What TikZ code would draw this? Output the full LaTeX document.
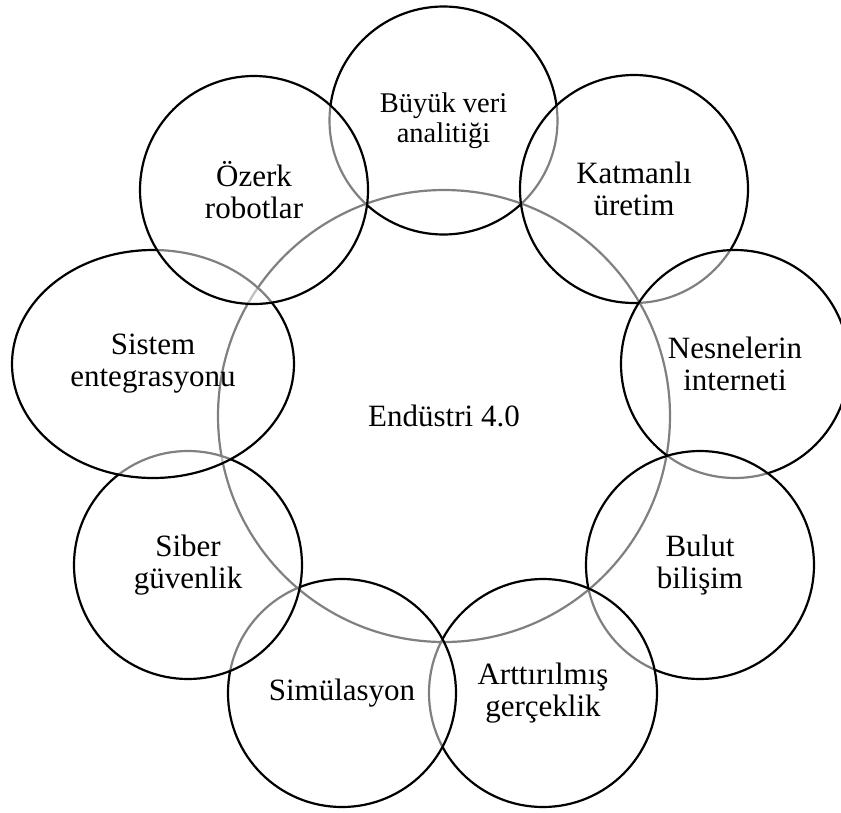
\documentclass[tikz,border=0pt]{standalone}
\usepackage{fontspec}
\setmainfont{Liberation Serif}
\usetikzlibrary{shapes.geometric}
\begin{document}
\begin{tikzpicture}[x=1pt,y=-1pt,
  ring/.style={draw=black, line width=2.2pt, fill=white, fill opacity=0.5, text opacity=1,
    align=center, inner sep=0pt, font=\fontsize{31}{32}\selectfont},
  petal/.style={ring, circle, minimum size=228pt},
  wide/.style={ring, ellipse, minimum width=282pt, minimum height=228pt},
  hub/.style={ring, circle, minimum size=452pt}]
\useasboundingbox (0,0) rectangle (841,812);
\node[hub] (center) at (444,416) {Endüstri 4.0};
\node[petal, font=\fontsize{28.5}{30}\selectfont] (buyuk) at (443.5,120.5) {Büyük veri\\analitiği};
\node[petal] (katman) at (634,189) {Katmanlı\\üretim};
\node[petal] (nesne) at (735,364) {Nesnelerin\\interneti};
\node[petal] (bulut) at (700,565) {Bulut\\bilişim};
\node[petal] (artt) at (543,693) {Arttırılmış\\gerçeklik};
\node[petal] (simu) at (342,693) {Simülasyon};
\node[petal] (siber) at (188,565) {Siber\\güvenlik};
\node[wide] (sistem) at (153,364) {Sistem\\entegrasyonu};
\node[petal] (ozerk) at (254,190) {Özerk\\robotlar};
\end{tikzpicture}
\end{document}
